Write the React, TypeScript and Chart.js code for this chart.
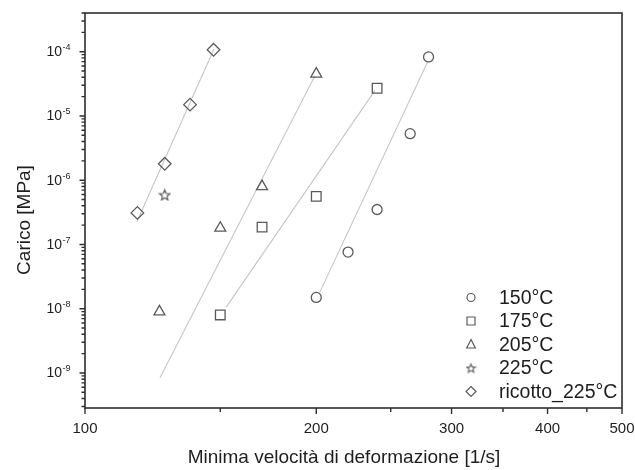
import React, { useEffect, useRef } from "react";
import { Chart, registerables } from "chart.js";

Chart.register(...registerables);

// ---- data ----
const seriesLabels = ["150°C", "175°C", "205°C", "225°C", "ricotto_225°C"];

const x150 = [200, 220, 240, 265, 280];
const y150 = [1.5e-8, 7.6e-8, 3.5e-7, 5.3e-6, 8.3e-5];

const x175 = [150, 170, 200, 240];
const y175 = [8.0e-9, 1.86e-7, 5.6e-7, 2.7e-5];

const x205 = [125, 150, 170, 200];
const y205 = [9.0e-9, 1.8e-7, 8.0e-7, 4.5e-5];

const x225 = [127];
const y225 = [5.9e-7];

const xRic = [117, 127, 137, 147];
const yRic = [3.1e-7, 1.8e-6, 1.5e-5, 1.07e-4];

// linear fits (end points)
const fit150X = [202, 279];
const fit150Y = [1.78e-8, 6.8e-5];
const fit175X = [152.6, 238.5];
const fit175Y = [1.05e-8, 2.5e-5];
const fit205X = [125.2, 199.2];
const fit205Y = [8.45e-10, 4.23e-5];
const fitRicX = [116.8, 147.2];
const fitRicY = [2.25e-7, 1.1e-4];

// ticks
const xMajorTicks = [100, 200, 300, 400, 500];
const xMinorTicks = [150, 250, 350, 450];
const yMajorExponents = [-9, -8, -7, -6, -5, -4];
const yMinorMultipliers = [2, 3, 4, 5, 6, 7, 8, 9];
const X_MIN = 100;
const X_MAX = 500;
const Y_MIN = 2.85e-10;
const Y_MAX = 4e-4;

const xTitle = "Minima velocità di deformazione [1/s]";
const yTitle = "Carico [MPa]";

const FONT = "'Liberation Sans', Arial, Helvetica, sans-serif";
const MARK = "#5a5a5a";
const FIT = "#c6c6c6";
const TEXT = "#1e1e1e";

function pts(xs: number[], ys: number[]) {
  return xs.map((x, i) => ({ x, y: ys[i] }));
}

function makeStar(size: number, color: string, lw: number): HTMLCanvasElement {
  const c = document.createElement("canvas");
  c.width = size;
  c.height = size;
  const ctx = c.getContext("2d")!;
  const cx = size / 2;
  const cy = size / 2 + 0.5;
  const R = size / 2 - 1;
  const r = R * 0.45;
  ctx.beginPath();
  for (let i = 0; i < 10; i++) {
    const a = -Math.PI / 2 + (i * Math.PI) / 5;
    const rad = i % 2 === 0 ? R : r;
    ctx.lineTo(cx + rad * Math.cos(a), cy + rad * Math.sin(a));
  }
  ctx.closePath();
  ctx.strokeStyle = color;
  ctx.lineWidth = lw;
  ctx.stroke();
  return c;
}

function drawSymbol(ctx: CanvasRenderingContext2D, style: string, x: number, y: number, star: HTMLCanvasElement) {
  ctx.save();
  ctx.strokeStyle = MARK;
  ctx.lineWidth = 1.2;
  ctx.beginPath();
  if (style === "circle") {
    ctx.arc(x, y, 4, 0, Math.PI * 2);
    ctx.stroke();
  } else if (style === "rect") {
    ctx.rect(x - 4, y - 4, 8, 8);
    ctx.stroke();
  } else if (style === "triangle") {
    const r = 5;
    ctx.moveTo(x, y - r);
    ctx.lineTo(x + r * 0.866, y + r * 0.5 + 1);
    ctx.lineTo(x - r * 0.866, y + r * 0.5 + 1);
    ctx.closePath();
    ctx.stroke();
  } else if (style === "rectRot") {
    const r = 5;
    ctx.moveTo(x, y - r);
    ctx.lineTo(x + r, y);
    ctx.lineTo(x, y + r);
    ctx.lineTo(x - r, y);
    ctx.closePath();
    ctx.stroke();
  } else if (style === "star") {
    ctx.drawImage(star, x - star.width / 2, y - star.height / 2);
  }
  ctx.restore();
}

export default function App() {
  const canvasRef = useRef<HTMLCanvasElement | null>(null);

  useEffect(() => {
    document.body.style.margin = "0";
    const canvas = canvasRef.current;
    if (!canvas) return;

    const starBig = makeStar(13, MARK, 1.2);
    const starSmall = makeStar(11, MARK, 1.1);
    const styles = ["circle", "rect", "triangle", "star", "rectRot"];

    const overlay = {
      id: "overlay",
      afterDraw(chart: any) {
        const ctx: CanvasRenderingContext2D = chart.ctx;
        const { left, right, top, bottom } = chart.chartArea;
        const xs = chart.scales.x;
        const ys = chart.scales.y;
        ctx.save();
        // frame
        ctx.strokeStyle = "#2e2e2e";
        ctx.lineWidth = 1.6;
        ctx.strokeRect(left, top, right - left, bottom - top);
        // x ticks
        ctx.lineWidth = 1.4;
        ctx.beginPath();
        xMajorTicks.forEach((v) => {
          const px = xs.getPixelForValue(v);
          ctx.moveTo(px, bottom);
          ctx.lineTo(px, bottom + 6);
        });
        xMinorTicks.forEach((v) => {
          const px = xs.getPixelForValue(v);
          ctx.moveTo(px, bottom);
          ctx.lineTo(px, bottom + 4);
        });
        // y ticks
        yMajorExponents.forEach((e) => {
          const py = ys.getPixelForValue(Math.pow(10, e));
          ctx.moveTo(left, py);
          ctx.lineTo(left - 5.5, py);
        });
        for (let e = -10; e <= -4; e++) {
          yMinorMultipliers.forEach((m) => {
            const v = m * Math.pow(10, e);
            if (v < Y_MIN || v > Y_MAX) return;
            const py = ys.getPixelForValue(v);
            ctx.moveTo(left, py);
            ctx.lineTo(left - 3.5, py);
          });
        }
        ctx.stroke();

        // y labels 10^e
        ctx.fillStyle = TEXT;
        ctx.textBaseline = "middle";
        ctx.textAlign = "left";
        yMajorExponents.forEach((e) => {
          const py = ys.getPixelForValue(Math.pow(10, e));
          ctx.font = `14px ${FONT}`;
          const base = "10";
          const w = ctx.measureText(base).width;
          const x0 = 46.5;
          ctx.fillText(base, x0, py + 0.5);
          ctx.font = `9px ${FONT}`;
          ctx.fillText(String(e), x0 + w + 0.5, py - 4);
        });

        // axis titles
        ctx.font = `19px ${FONT}`;
        ctx.textAlign = "center";
        ctx.textBaseline = "middle";
        ctx.fillText(xTitle, 344, 458);
        ctx.save();
        ctx.translate(25, 220);
        ctx.rotate(-Math.PI / 2);
        ctx.fillText(yTitle, 0, 0);
        ctx.restore();

        // legend
        const rowY = [297.5, 321, 344.5, 368, 391.5];
        seriesLabels.forEach((lab, i) => {
          drawSymbol(ctx, styles[i], 471, rowY[i], starSmall);
          ctx.fillStyle = TEXT;
          ctx.font = `19.5px ${FONT}`;
          ctx.textAlign = "left";
          ctx.textBaseline = "middle";
          ctx.fillText(lab, 499, rowY[i] + 1);
        });
        ctx.restore();
      },
    };

    const markerDs = (label: string, data: any[], style: any, radius: number) => ({
      label,
      data,
      showLine: false,
      pointStyle: style,
      pointRadius: radius,
      pointBorderColor: MARK,
      pointBackgroundColor: "rgba(0,0,0,0)",
      pointBorderWidth: 1.3,
      order: 0,
    });
    const fitDs = (data: any[]) => ({
      label: "",
      data,
      showLine: true,
      pointRadius: 0,
      borderColor: FIT,
      borderWidth: 1.1,
      order: 1,
    });

    const chart = new Chart(canvas, {
      type: "scatter",
      data: {
        datasets: [
          fitDs(pts(fit150X, fit150Y)),
          fitDs(pts(fit175X, fit175Y)),
          fitDs(pts(fit205X, fit205Y)),
          fitDs(pts(fitRicX, fitRicY)),
          markerDs(seriesLabels[0], pts(x150, y150), "circle", 5),
          markerDs(seriesLabels[1], pts(x175, y175), "rect", 6.8),
          markerDs(seriesLabels[2], pts(x205, y205), "triangle", 6.3),
          markerDs(seriesLabels[3], pts(x225, y225), starBig, 6),
          markerDs(seriesLabels[4], pts(xRic, yRic), "rectRot", 6.3),
        ] as any,
      },
      options: {
        animation: false,
        responsive: true,
        maintainAspectRatio: false,
        layout: { padding: { top: 13, right: 13, left: 0, bottom: 0 } },
        plugins: { legend: { display: false }, tooltip: { enabled: false } },
        scales: {
          x: {
            type: "logarithmic",
            min: X_MIN,
            max: X_MAX,
            afterBuildTicks: (s: any) => {
              s.ticks = [...xMajorTicks, ...xMinorTicks].sort((a, b) => a - b).map((v) => ({ value: v }));
            },
            ticks: {
              callback: (v: any) => (xMajorTicks.includes(Number(v)) ? String(v) : ""),
              font: { family: FONT, size: 15 },
              color: TEXT,
              padding: 4,
              maxRotation: 0,
              autoSkip: false,
            },
            grid: { display: false },
            border: { display: false },
            afterFit: (s: any) => {
              s.height = 62;
              s.paddingLeft = 0;
              s.paddingRight = 0;
            },
          },
          y: {
            type: "logarithmic",
            min: Y_MIN,
            max: Y_MAX,
            ticks: { display: false },
            grid: { display: false },
            border: { display: false },
            afterFit: (s: any) => {
              s.width = 85;
              s.paddingTop = 0;
              s.paddingBottom = 0;
            },
          },
        } as any,
      },
      plugins: [overlay],
    });

    return () => chart.destroy();
  }, []);

  return (
    <div style={{ width: 635, height: 470, position: "relative", overflow: "hidden", background: "#fff" }}>
      <canvas ref={canvasRef} />
    </div>
  );
}
